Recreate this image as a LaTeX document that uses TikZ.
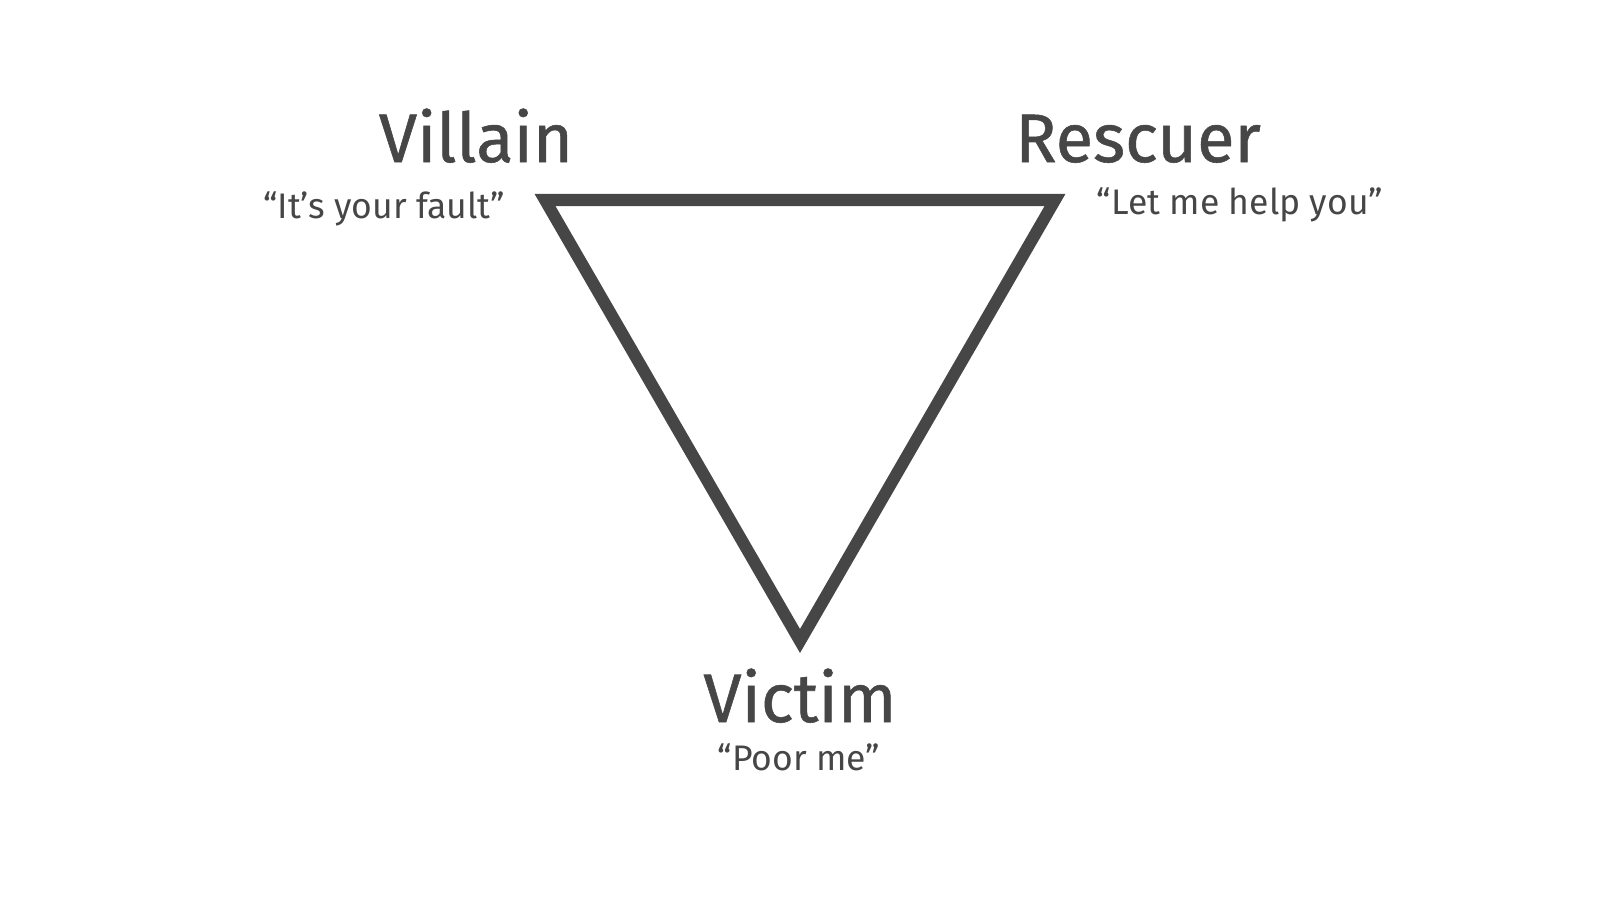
\documentclass[tikz,border=0pt]{standalone}
\usepackage{fontspec}
\setmainfont{Fira Sans}
\newfontfamily\rolefont[FakeBold=0.8]{Fira Sans}
\usetikzlibrary{positioning}
\definecolor{ink}{RGB}{70,70,70}

\begin{document}
\begin{tikzpicture}[x=0.01cm, y=-0.01cm]

% role name style
\tikzstyle{role} = [
    text=ink,
    font=\rolefont\fontsize{19.5}{24}\selectfont,
    anchor=base,
    inner sep=0pt
]

% quote style
\tikzstyle{quote} = [
    text=ink,
    font=\fontsize{10.1}{12}\selectfont,
    anchor=base,
    inner sep=0pt
]

\useasboundingbox (0,0) rectangle (1600,900);

% Corners of the triangle.
\coordinate (v-corner) at (545,200);
\coordinate (r-corner) at (1055,200);
\coordinate (c-corner) at (800,641);

% Draw the triangle.
\draw [ink, line width=0.12cm, line join=miter] (v-corner) -- (r-corner) -- (c-corner) -- cycle;

% Place the labels.
\node [role] (villain) at (476,162) {Villain};
\node [quote] (villain-q) at (384,218) {“It’s your fault”};

\node [role] (rescuer) at (1138,162) {Rescuer};
\node [quote] (rescuer-q) at (1240,214) {“Let me help you”};

\node [role] (victim) at (800,722) {Victim};
\node [quote] (victim-q) at (799,770) {“Poor me”};

\end{tikzpicture}
\end{document}
